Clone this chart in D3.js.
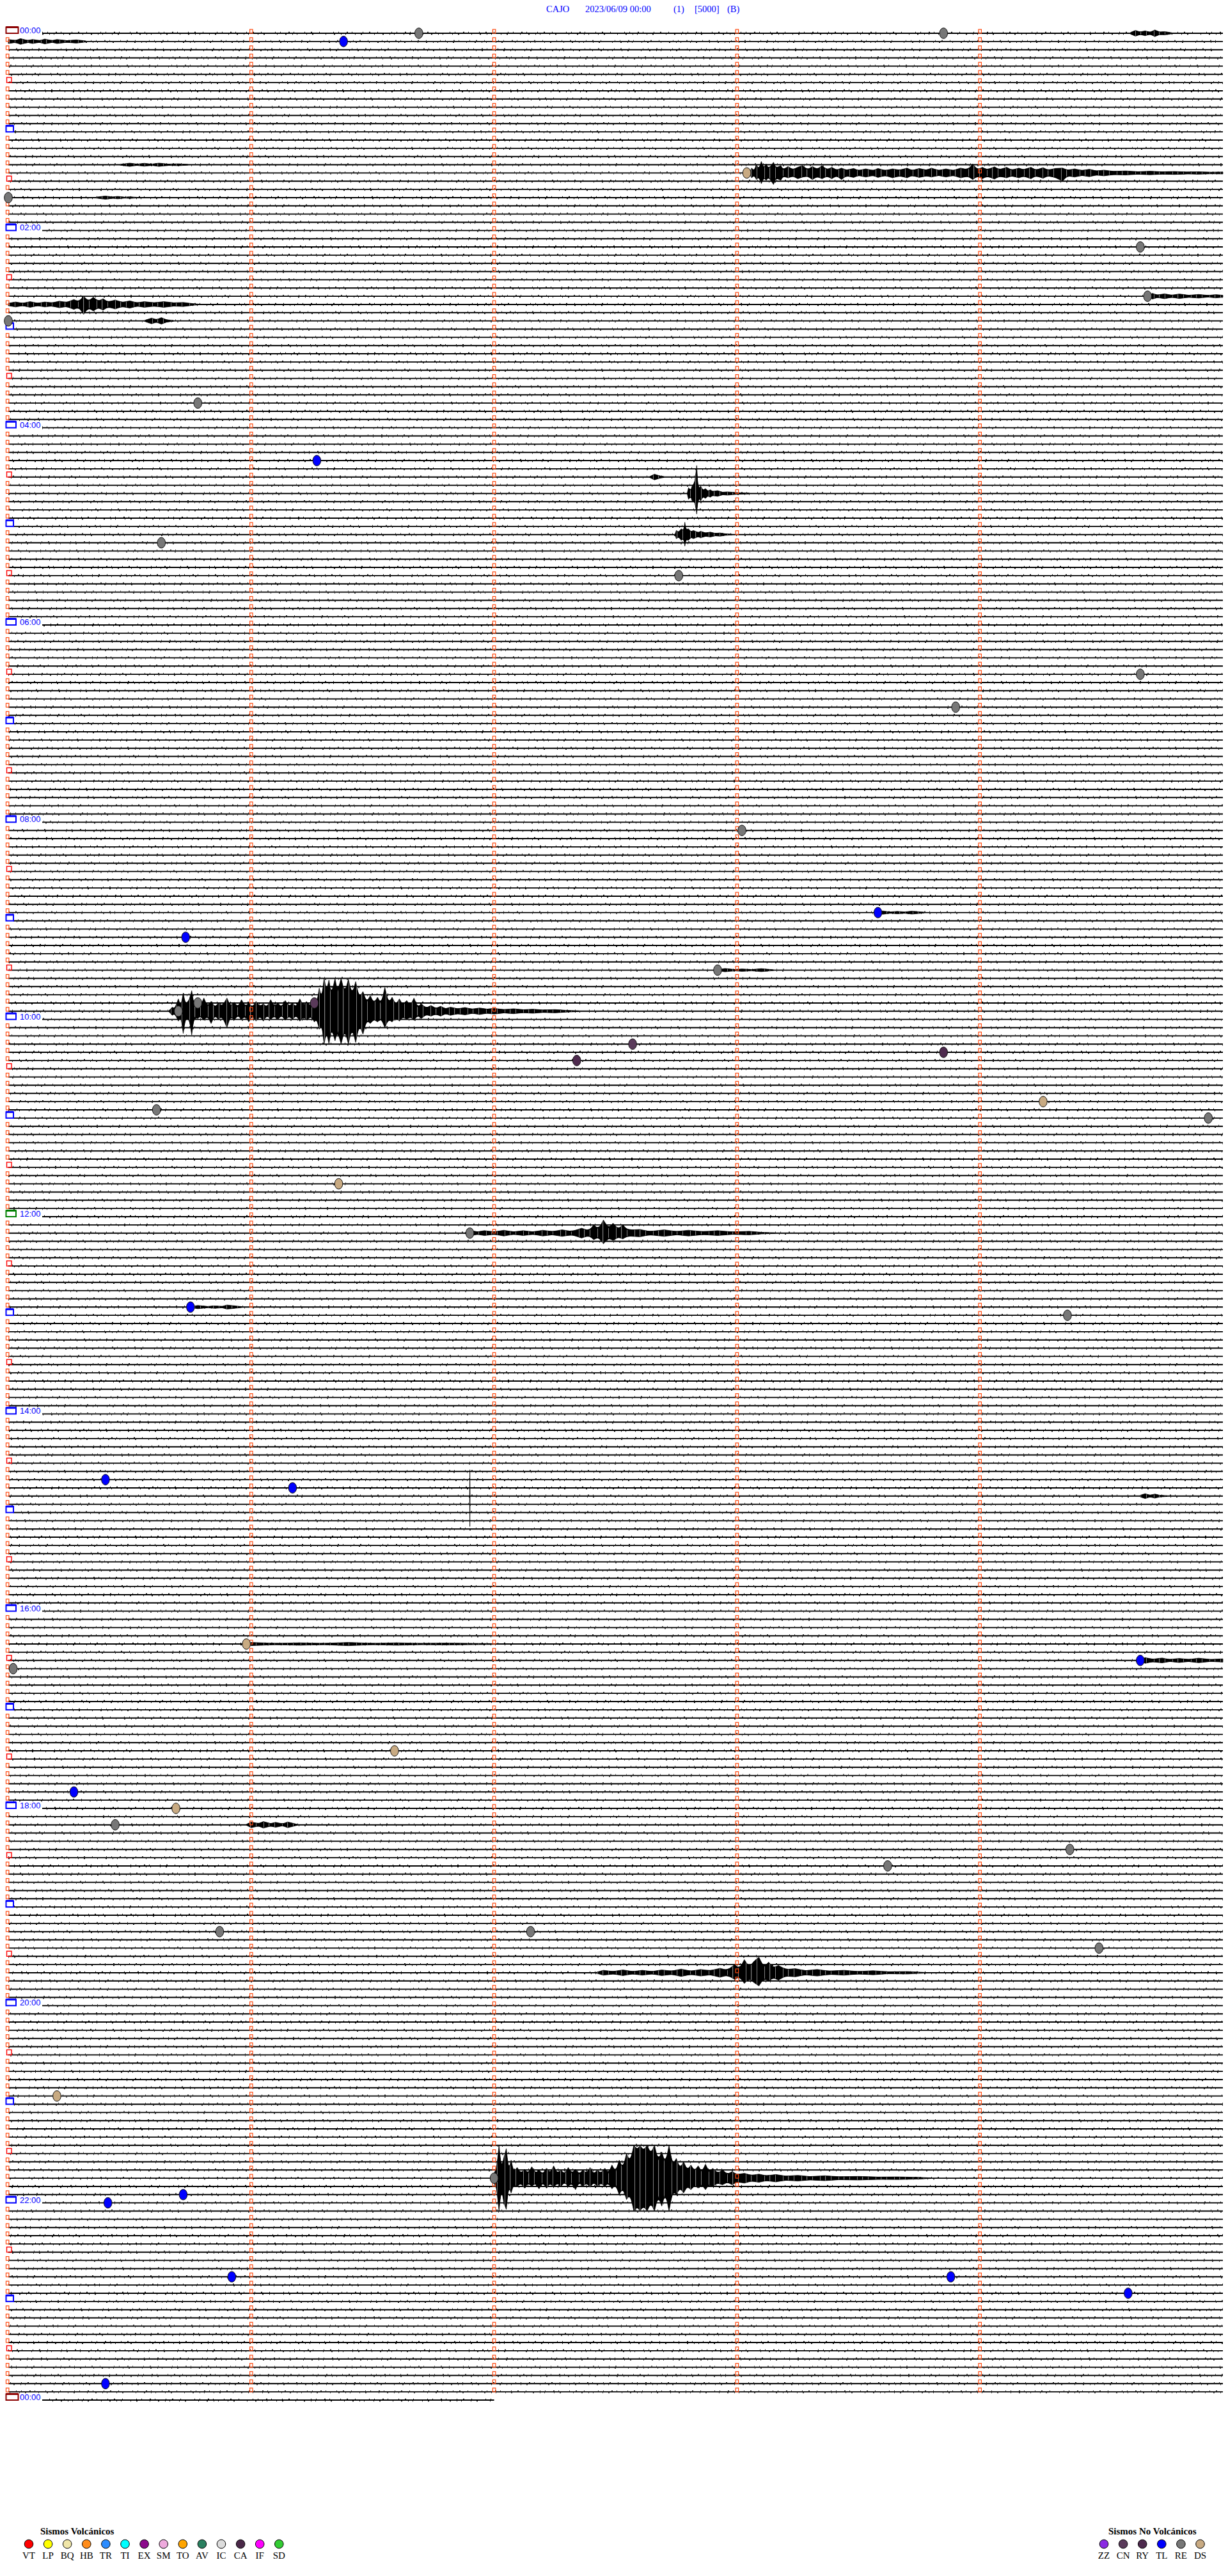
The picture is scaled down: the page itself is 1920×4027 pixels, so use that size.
<!DOCTYPE html>
<html lang="es">
<head>
<meta charset="utf-8">
<title>CAJO 2023/06/09 00:00</title>
<script src="https://d3js.org/d3.v7.min.js"></script>
<style>
  body { margin: 0; background: #fff; }
  svg { display: block; }
  .title { font-family: "Liberation Serif", "Times New Roman", serif; font-size: 14.5px; fill: #0000ff; }
  .hour { font-family: "Liberation Sans", Arial, sans-serif; font-size: 13px; fill: #0000ff; }
  .legend text { font-family: "Liberation Serif", "Times New Roman", serif; fill: #000; }
</style>
</head>
<body>
<script>
// helicorder: 5 minutes per row, 12 rows per hour, 24 h + closing row
var W = 1920, H = 4027;
var rowCount = 289;
var lastRowMinutes = 2.0;

var titleParts = ["CAJO", "2023/06/09 00:00", "(1)", "[5000]", "(B)"];
var hourLabels = ["00:00","02:00","04:00","06:00","08:00","10:00","12:00",
                  "14:00","16:00","18:00","20:00","22:00","00:00"];

var volcanicCodes = ["VT","LP","BQ","HB","TR","TI","EX","SM","TO","AV","IC","CA","IF","SD"];
var nonVolcanicCodes = ["ZZ","CN","RY","TL","RE","DS"];

// classified events: row, minute within row, type
var markRow = [0,0,1,17,20,26,32,35,45,52, 62,66,78,82,97,107,110,114,118,118,
               119,123,124,125,130,131,132,140,146,155, 156,176,177,196,198,199,209,214,216,218,
               221,223,231,231,233,251,261,263,264,273, 273,275,286];
var markMin = [1.69,3.85,1.38,3.04,0.0,4.66,4.69,0.0,0.78,1.27, 0.63,2.76,4.66,3.90,3.02,3.58,0.73,2.92,0.78,1.26,
               0.70,2.57,3.85,2.34,4.26,0.61,4.94,1.36,1.90,0.75, 4.36,0.40,1.17,0.98,4.66,0.02,1.59,0.27,0.69,0.44,
               4.37,3.62,0.87,2.15,4.49,0.20,2.0,0.72,0.41,0.92, 3.88,4.61,0.40];
var markType = ["RE","RE","TL","DS","RE","RE","RE","RE","RE","TL", "RE","RE","RE","RE","RE","TL","TL","RE","RE","CN",
                "RE","CN","RY","RY","DS","RE","RE","DS","RE","TL", "RE","TL","TL","DS","TL","RE","DS","TL","DS","RE",
                "RE","RE","RE","RE","RE","DS","RE","TL","TL","TL", "TL","TL","TL"];

// signal envelopes: [minute, amplitude up, amplitude down] in row spacings
var bursts = [
  {row: 0, env: [[4.62,0.1],[4.64,0.35],[4.66,0.15],[4.68,0.3],[4.70,0.12],[4.72,0.4],[4.74,0.15],[4.76,0.2],[4.79,0.06]]},
  {row: 1, env: [[0.0,0.25],[0.03,0.12],[0.05,0.35],[0.08,0.12],[0.1,0.25],[0.13,0.1],[0.15,0.3],[0.18,0.1],
                 [0.2,0.25],[0.24,0.1],[0.28,0.2],[0.32,0.06]]},
  {row: 16, env: [[0.46,0.05],[0.5,0.2],[0.53,0.08],[0.56,0.18],[0.59,0.08],[0.62,0.2],[0.66,0.08],[0.7,0.12],[0.74,0.04]]},
  {row: 17, env: [[3.05,0.02],[3.06,0.6],[3.07,0.3],[3.08,1.0,0.8],[3.09,0.5],[3.10,1.4,1.3],[3.11,0.6],[3.12,1.1,0.9],
                  [3.13,0.5],[3.15,1.3,1.4],[3.16,0.6],[3.18,0.9],[3.19,0.4],[3.21,0.8,0.6],[3.23,0.4],[3.25,0.7],
                  [3.27,0.9,0.5],[3.29,0.4],[3.31,0.8],[3.33,0.45],[3.35,0.9,0.7],[3.37,0.4],[3.39,0.7],[3.41,0.35],
                  [3.43,0.6,0.8],[3.45,0.35],[3.48,0.55],[3.5,0.3],[3.53,0.5],[3.56,0.3],[3.58,0.55],[3.61,0.3],
                  [3.64,0.5,0.6],[3.67,0.35],[3.7,0.6],[3.72,0.3],[3.75,0.55],[3.78,0.35],[3.8,0.6,0.5],[3.83,0.3],
                  [3.86,0.5],[3.89,0.3],[3.92,0.6],[3.95,0.4],[3.97,1.1,0.8],[3.99,0.4],[4.01,0.7],[4.03,0.4],
                  [4.06,0.75],[4.08,0.4],[4.11,0.7,0.6],[4.13,0.35],[4.16,0.6],[4.18,0.4],[4.21,0.7],[4.23,0.35],
                  [4.26,0.65],[4.28,0.35],[4.31,0.55],[4.34,0.6,1.0],[4.36,0.35],[4.39,0.5],[4.42,0.3],[4.45,0.45],
                  [4.48,0.25],[4.51,0.35],[4.55,0.2],[4.6,0.25],[4.65,0.15],[4.7,0.22],[4.75,0.14],[4.8,0.18],
                  [4.85,0.12],[4.9,0.15],[4.95,0.1],[5.0,0.12]]},
  {row: 20, env: [[0.36,0.05],[0.4,0.2],[0.43,0.08],[0.45,0.15],[0.48,0.06],[0.5,0.1],[0.53,0.04]]},
  {row: 32, env: [[4.69,0.05],[4.71,0.35],[4.73,0.15],[4.76,0.3],[4.79,0.12],[4.82,0.28],[4.86,0.12],[4.9,0.22],
                  [4.94,0.1],[4.97,0.2],[5.0,0.12]]},
  {row: 33, env: [[0.0,0.15],[0.03,0.3],[0.06,0.15],[0.09,0.35],[0.12,0.15],[0.15,0.3],[0.18,0.2],[0.21,0.4],
                  [0.24,0.25],[0.27,0.6],[0.29,0.35],[0.31,1.0,1.2],[0.33,0.4],[0.35,0.9,0.8],[0.37,0.4],[0.39,0.7],
                  [0.41,0.3],[0.44,0.55],[0.47,0.25],[0.5,0.45],[0.53,0.2],[0.56,0.35],[0.6,0.2],[0.64,0.35],
                  [0.68,0.2],[0.72,0.25],[0.76,0.1],[0.79,0.03]]},
  {row: 35, env: [[0.56,0.05],[0.59,0.35],[0.61,0.15],[0.63,0.4],[0.65,0.15],[0.68,0.05]]},
  {row: 54, env: [[2.64,0.05],[2.66,0.35],[2.68,0.15],[2.7,0.05]]},
  {row: 56, env: [[2.795,0.05],[2.80,0.7],[2.81,0.4],[2.815,0.9],[2.822,1.2,1.0],[2.827,1.6,1.2],[2.834,3.4,2.5],
                  [2.838,1.3,1.1],[2.845,0.6],[2.85,0.9],[2.86,0.4],[2.87,0.6],[2.88,0.3],[2.89,0.45],[2.9,0.25],
                  [2.92,0.35],[2.94,0.15],[2.96,0.2],[3.0,0.1],[3.05,0.05]]},
  {row: 61, env: [[2.745,0.05],[2.75,0.5],[2.76,0.3],[2.77,0.7],[2.78,0.5],[2.785,1.5,1.4],[2.79,0.6],[2.8,0.7],
                  [2.81,0.35],[2.82,0.5],[2.84,0.25],[2.85,0.4],[2.87,0.2],[2.89,0.3],[2.91,0.15],[2.93,0.2],
                  [2.95,0.1],[2.98,0.04]]},
  {row: 107, env: [[3.58,0.05],[3.6,0.2],[3.63,0.08],[3.66,0.15],[3.69,0.08],[3.72,0.18],[3.77,0.05]]},
  {row: 114, env: [[2.92,0.05],[2.95,0.2],[2.99,0.08],[3.02,0.15],[3.06,0.08],[3.1,0.18],[3.15,0.05]]},
  {row: 119, env: [[0.66,0.02],[0.675,0.5],[0.685,0.3],[0.70,1.5,1.2],[0.71,0.6],[0.72,2.2,2.7],[0.73,0.8],
                   [0.745,1.4,1.0],[0.755,2.5,2.9],[0.765,0.7],[0.78,1.3,0.9],[0.79,0.6],[0.805,1.6,1.1],[0.82,0.6],
                   [0.835,1.2,1.5],[0.85,0.5],[0.865,1.0],[0.88,0.6],[0.9,1.6,2.0],[0.915,0.6],[0.93,1.1],[0.945,0.5],
                   [0.96,1.4,1.0],[0.975,0.6],[0.99,1.0,1.3],[1.005,0.5],[1.02,1.2],[1.035,0.6],[1.05,0.9,1.2],
                   [1.065,0.5],[1.08,1.4,1.0],[1.095,0.6],[1.11,1.0],[1.125,0.5],[1.14,1.3,1.1],[1.155,0.6],[1.17,1.0],
                   [1.185,0.5],[1.2,1.5,1.2],[1.215,0.7],[1.23,1.1],[1.245,0.6],[1.26,1.6,1.3],[1.27,1.0],
                   [1.28,2.8,2.2],[1.29,1.6],[1.30,4.0,4.0],[1.31,2.5],[1.32,3.8,4.0],[1.33,2.0],[1.345,4.0,3.6],
                   [1.355,2.4],[1.37,4.0,4.0],[1.385,2.2],[1.40,3.9,4.0],[1.415,2.0],[1.43,3.6,3.8],[1.445,1.6],
                   [1.46,2.4,2.8],[1.475,1.1],[1.49,1.9,1.5],[1.505,1.0],[1.52,1.7,1.3],[1.535,0.9],[1.55,2.9,2.0],
                   [1.565,1.0],[1.58,1.7,1.3],[1.595,0.8],[1.61,1.5,1.2],[1.625,0.7],[1.64,1.3,1.0],[1.655,0.7],
                   [1.67,1.6,1.1],[1.685,0.5],[1.70,0.9],[1.72,0.4],[1.74,0.7,0.6],[1.76,0.35],[1.78,0.6],[1.8,0.3],
                   [1.82,0.5],[1.85,0.3],[1.88,0.45],[1.91,0.25],[1.94,0.4],[1.97,0.25],[2.0,0.35],[2.04,0.2],
                   [2.08,0.3],[2.12,0.18],[2.16,0.25],[2.2,0.15],[2.25,0.2],[2.3,0.1],[2.35,0.04]]},
  {row: 146, env: [[1.88,0.05],[1.9,0.35],[1.93,0.15],[1.96,0.3],[2.0,0.15],[2.04,0.35],[2.08,0.15],[2.12,0.3],
                   [2.16,0.15],[2.2,0.35],[2.24,0.2],[2.28,0.4],[2.32,0.2],[2.36,0.6],[2.39,0.3],[2.41,1.0,0.8],
                   [2.43,0.5],[2.45,1.6,1.3],[2.47,0.6],[2.49,1.2,0.9],[2.51,0.5],[2.53,1.0,0.7],[2.55,0.35],
                   [2.6,0.45],[2.64,0.2],[2.7,0.4],[2.75,0.2],[2.8,0.35],[2.86,0.18],[2.92,0.3],[2.98,0.15],
                   [3.05,0.22],[3.1,0.1],[3.16,0.03]]},
  {row: 155, env: [[0.75,0.05],[0.78,0.2],[0.82,0.08],[0.85,0.15],[0.88,0.08],[0.9,0.25],[0.96,0.06]]},
  {row: 178, env: [[1.899,0.05],[1.9,3.2,3.7],[1.901,0.05]]},
  {row: 178, env: [[4.66,0.1],[4.68,0.3],[4.7,0.1],[4.72,0.25],[4.74,0.1],[4.77,0.05]]},
  {row: 196, env: [[0.98,0.05],[1.0,0.2],[1.1,0.08],[1.2,0.15],[1.3,0.08],[1.4,0.2],[1.5,0.08],[1.6,0.15],
                   [1.7,0.08],[1.8,0.12],[2.0,0.05]]},
  {row: 198, env: [[4.66,0.05],[4.68,0.35],[4.71,0.15],[4.75,0.3],[4.78,0.12],[4.82,0.25],[4.86,0.12],[4.9,0.28],
                   [4.95,0.12],[5.0,0.2]]},
  {row: 218, env: [[0.98,0.05],[1.0,0.35],[1.03,0.15],[1.05,0.4],[1.08,0.15],[1.1,0.3],[1.13,0.12],[1.15,0.35],
                   [1.19,0.05]]},
  {row: 236, env: [[2.42,0.05],[2.45,0.3],[2.49,0.15],[2.53,0.35],[2.57,0.15],[2.61,0.3],[2.65,0.15],[2.69,0.35],
                   [2.73,0.2],[2.77,0.45],[2.81,0.2],[2.85,0.4],[2.89,0.25],[2.93,0.55],[2.96,0.3],[2.99,1.0,0.8],
                   [3.01,0.5],[3.03,1.6,1.3],[3.05,0.7],[3.07,1.4,1.2],[3.09,1.9,1.6],[3.11,0.7],[3.13,1.3,1.0],
                   [3.15,0.6],[3.17,0.9],[3.2,0.4],[3.24,0.5],[3.28,0.25],[3.33,0.4],[3.38,0.2],[3.44,0.3],
                   [3.5,0.15],[3.56,0.25],[3.62,0.12],[3.7,0.15],[3.78,0.03]]},
  {row: 261, env: [[1.99,0.02],[2.0,0.6],[2.01,1.2],[2.02,4.0,4.0],[2.03,1.2],[2.04,2.5,3.0],[2.05,3.6,3.8],[2.06,1.0],
                   [2.07,2.2,1.8],[2.08,0.8],[2.095,1.3,1.0],[2.11,0.6],[2.125,1.1,1.2],[2.14,0.6],[2.155,1.4,1.0],
                   [2.17,0.6],[2.185,1.0,1.3],[2.2,0.5],[2.215,1.2],[2.23,0.6],[2.245,1.5,1.1],[2.26,0.6],[2.275,1.0],
                   [2.29,0.5],[2.305,1.3,1.0],[2.32,0.6],[2.335,1.1,1.4],[2.35,0.5],[2.365,1.0],[2.38,0.6],
                   [2.395,1.3,1.1],[2.41,0.5],[2.425,1.0],[2.44,0.6],[2.455,1.2,1.0],[2.47,0.6],[2.485,1.6,1.3],
                   [2.5,0.8],[2.515,2.2,2.0],[2.53,1.2],[2.545,3.0,2.6],[2.56,2.0],[2.575,4.0,4.0],[2.59,3.5],
                   [2.6,4.0,4.0],[2.615,3.4],[2.63,4.0,4.0],[2.645,3.0],[2.66,4.0,4.0],[2.675,2.2],[2.69,3.2,3.4],
                   [2.705,1.8],[2.72,4.0,4.0],[2.735,1.6],[2.75,2.4,2.0],[2.765,1.2],[2.78,2.0,1.8],[2.795,1.0],
                   [2.81,1.6,1.4],[2.825,0.9],[2.84,1.5,1.2],[2.855,0.8],[2.87,1.7,1.4],[2.885,0.8],[2.9,1.2,1.0],
                   [2.92,0.6],[2.94,1.0,0.8],[2.96,0.5],[2.98,0.8],[3.0,0.45],[3.03,0.6],[3.06,0.35],[3.09,0.5],
                   [3.12,0.3],[3.16,0.45],[3.2,0.25],[3.25,0.35],[3.3,0.2],[3.36,0.3],[3.42,0.18],[3.5,0.22],
                   [3.58,0.14],[3.66,0.16],[3.75,0.1],[3.8,0.03]]}
];

var typeColor = d3.scaleOrdinal()
  .domain(volcanicCodes.concat(nonVolcanicCodes))
  .range(["#ff0000","#ffff00","#f0e6a8","#ff8c1a","#2b8cff","#00ffff","#8b0a8b","#eeaadd","#ffa500",
          "#2a8060","#dcdcdc","#4a2848","#ff00ff","#33cc33",
          "#8a2be2","#5a3a5a","#4e2a4e","#0000ff","#777777","#c8aa82"]);

// scales
var x = d3.scaleLinear().domain([0, 5]).range([13, 1912]);
var y = d3.scaleLinear().domain([0, rowCount - 1]).range([52, 3752]);
var rowStep = y(1) - y(0);
var amp = d3.scaleLinear().domain([0, 1]).range([0, rowStep]);

var svg = d3.select("body").append("svg")
  .attr("width", W)
  .attr("height", H);

svg.append("rect").attr("width", W).attr("height", H).attr("fill", "#fff");

// texture for the signal bursts
var pat = svg.append("defs").append("pattern")
  .attr("id", "wig")
  .attr("patternUnits", "userSpaceOnUse")
  .attr("width", 29).attr("height", 60);
pat.append("rect").attr("width", 29).attr("height", 60).attr("fill", "#000");
[[6, 0.5], [14.5, 0.6], [23, 0.5]].forEach(function(s) {
  pat.append("rect").attr("x", s[0]).attr("width", s[1]).attr("height", 60).attr("fill", "#fff");
});

var rows = d3.range(rowCount);
function rowStart(i) {
  if (i % 24 === 0) return 66;
  if (i % 12 === 0) return 21;
  return x(0);
}
function rowEnd(i) { return i === rowCount - 1 ? x(lastRowMinutes) : x(5); }

// traces
var tr = svg.append("g");
tr.selectAll("line.base").data(rows).join("line")
  .attr("class", "base")
  .attr("x1", rowStart).attr("x2", rowEnd)
  .attr("y1", function(d) { return y(d); }).attr("y2", function(d) { return y(d); })
  .attr("stroke", "#000").attr("stroke-width", 1.9);
tr.selectAll("line.up").data(rows).join("line")
  .attr("class", "up")
  .attr("x1", rowStart).attr("x2", rowEnd)
  .attr("y1", function(d) { return y(d) - 1.6; }).attr("y2", function(d) { return y(d) - 1.6; })
  .attr("stroke", "#000").attr("stroke-width", 1.2)
  .attr("stroke-dasharray", "1 7 1 12 2 6 1 16 1 9 2 11 1 21")
  .attr("stroke-dashoffset", function(d) { return (d * 53) % 97; });
tr.selectAll("line.dn").data(rows).join("line")
  .attr("class", "dn")
  .attr("x1", rowStart).attr("x2", rowEnd)
  .attr("y1", function(d) { return y(d) + 1.6; }).attr("y2", function(d) { return y(d) + 1.6; })
  .attr("stroke", "#000").attr("stroke-width", 1.2)
  .attr("stroke-dasharray", "2 9 1 6 1 14 1 8 2 19 1 12")
  .attr("stroke-dashoffset", function(d) { return (d * 31) % 83; });

// bursts: smooth core band plus the spiky outline on top
var bg = svg.append("g");
bursts.forEach(function(b) {
  var base = y(b.row);
  var area = d3.area()
    .x(function(p) { return x(p[0]); })
    .y0(function(p) { return base - amp(p[1]); })
    .y1(function(p) { return base + amp(p.length > 2 ? p[2] : p[1]); });
  bg.append("path").attr("d", area.curve(d3.curveBasis)(b.env)).attr("fill", "#000");
  bg.append("path").attr("d", area.curve(d3.curveLinear)(b.env)).attr("fill", "url(#wig)")
    .attr("stroke", "#000").attr("stroke-width", 0.7);
});

// minute markers
var mk = svg.append("g").attr("fill", "none");
rows.slice(0, rowCount - 1).forEach(function(i) {
  var base = y(i);
  [1, 2, 3, 4].forEach(function(m) {
    mk.append("rect").attr("x", x(m) - 2.2).attr("y", base - 6).attr("width", 4.4).attr("height", 6)
      .attr("stroke", "#ff4a10").attr("stroke-width", 1.2);
  });
  if (i % 12 === 0) return;
  if (i % 12 === 6) {
    mk.append("rect").attr("x", 10.5).attr("y", base - 8).attr("width", 7.5).attr("height", 8)
      .attr("stroke", "#ff0000").attr("stroke-width", 1.4);
  } else {
    mk.append("rect").attr("x", 9.5).attr("y", base - 6).attr("width", 4.4).attr("height", 6)
      .attr("stroke", "#ff4a10").attr("stroke-width", 1.2);
  }
});

// hour boxes and labels
rows.filter(function(i) { return i % 12 === 0; }).forEach(function(i) {
  var base = y(i);
  var even = i % 24 === 0;
  var col = "#0000ff", w = even ? 15.5 : 11.5;
  if (i === 0 || i === rowCount - 1) { col = "#8b0000"; w = 19; }
  if (i === 144) col = "#008000";
  mk.append("rect").attr("x", 9.5).attr("y", base - 9.5).attr("width", w).attr("height", 9.5)
    .attr("fill", "#fff").attr("stroke", col).attr("stroke-width", 2);
  mk.append("line").attr("x1", 9.5).attr("x2", 9.5 + w).attr("y1", base - 9.5).attr("y2", base - 9.5)
    .attr("stroke", col).attr("stroke-width", 3);
  if (even) {
    svg.append("text").attr("class", "hour")
      .attr("x", 31).attr("y", base)
      .text(hourLabels[i / 24]);
  }
});

// event marks
svg.append("g").selectAll("ellipse").data(markRow).join("ellipse")
  .attr("cx", function(d, k) { return x(markMin[k]); })
  .attr("cy", function(d) { return y(d); })
  .attr("rx", 6.3).attr("ry", 8.3)
  .attr("fill", function(d, k) { return typeColor(markType[k]); })
  .attr("stroke", "#111").attr("stroke-width", 1);

// title
var tx = [854, 915, 1053, 1086, 1137];
svg.append("text").attr("class", "title").attr("y", 19)
  .selectAll("tspan").data(titleParts).join("tspan")
  .attr("x", function(d, k) { return tx[k]; })
  .text(function(d) { return d; });

// legends
function legend(codes, x0, titleX, titleText) {
  var g = svg.append("g").attr("class", "legend");
  g.append("text").attr("x", titleX).attr("y", 3962)
    .attr("font-size", 15).attr("font-weight", "bold").text(titleText);
  var lx = d3.scalePoint().domain(codes).range([x0, x0 + 30.1 * (codes.length - 1)]);
  g.selectAll("circle").data(codes).join("circle")
    .attr("cx", function(d) { return lx(d); }).attr("cy", 3977).attr("r", 6.8)
    .attr("fill", function(d) { return typeColor(d); })
    .attr("stroke", "#000").attr("stroke-width", 1);
  g.selectAll("text.code").data(codes).join("text")
    .attr("class", "code")
    .attr("x", function(d) { return lx(d); }).attr("y", 4000)
    .attr("text-anchor", "middle").attr("font-size", 15)
    .text(function(d) { return d; });
}
legend(volcanicCodes, 45, 63, "Sismos Volcánicos");
legend(nonVolcanicCodes, 1726, 1733, "Sismos No Volcánicos");
</script>
</body>
</html>
